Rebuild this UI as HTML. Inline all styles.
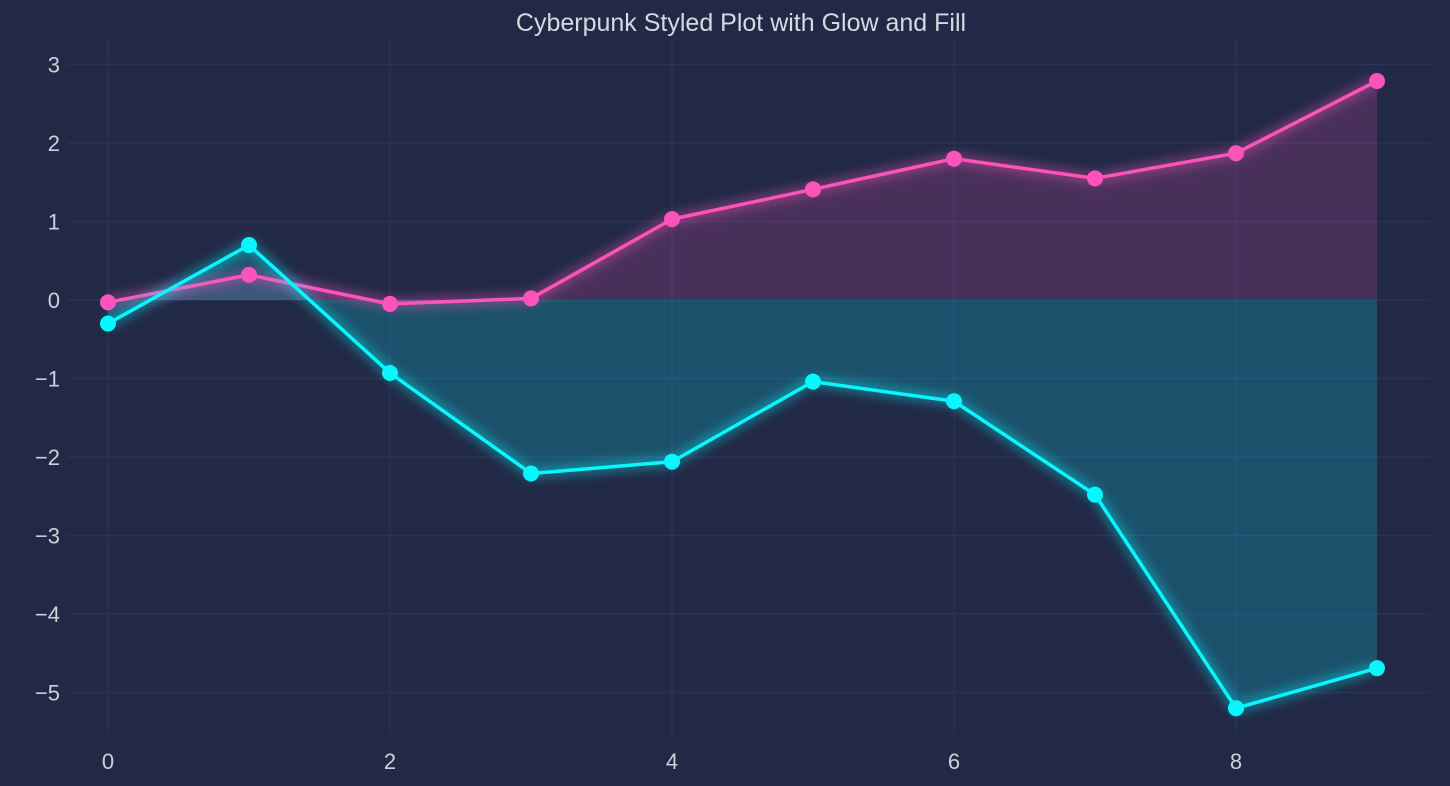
<!DOCTYPE html>
<html><head><meta charset="utf-8"><style>
html,body{margin:0;padding:0;background:#212946;}
svg{display:block;font-family:"Liberation Sans",sans-serif;}
</style></head><body>
<svg id="chart" width="1450" height="786" viewBox="0 0 1450 786">
<defs>
<filter id="glow" x="-20%" y="-20%" width="140%" height="140%"><feGaussianBlur stdDeviation="5"/></filter>
</defs>
<rect width="1450" height="786" fill="#212946"/>
<text x="741" y="31" text-anchor="middle" font-size="25" fill="#d8d8e0">Cyberpunk Styled Plot with Glow and Fill</text>
<g id="grid"></g><g id="fills"></g><g id="lines"></g><g id="ticks"></g>
</svg>
<script>
const xValues = [0,1,2,3,4,5,6,7,8,9];
const pinkValues = [-0.03,0.32,-0.05,0.02,1.03,1.41,1.80,1.55,1.87,2.79];
const cyanValues = [-0.30,0.70,-0.93,-2.21,-2.06,-1.04,-1.29,-2.48,-5.20,-4.69];
const xTicks = [0,2,4,6,8];
const yTicks = [3,2,1,0,-1,-2,-3,-4,-5];
const NS = "http://www.w3.org/2000/svg";
const sx = v => 108 + v * 141.0;
const sy = v => 300 - v * 78.5;
function mk(tag, attrs, parent){const e=document.createElementNS(NS,tag);for(const k in attrs)e.setAttribute(k,attrs[k]);parent.appendChild(e);return e;}
const grid=document.getElementById('grid'),fills=document.getElementById('fills'),lines=document.getElementById('lines'),ticks=document.getElementById('ticks');
for(const t of xTicks){
  const l=mk('line',{x1:sx(t),x2:sx(t),y1:40,y2:735,stroke:'#2A3459','stroke-width':1.3},grid);
  
  
  const tx=mk('text',{x:sx(t),y:770,'text-anchor':'middle','font-size':22,fill:'#d0d0d8'},ticks);
  tx.textContent=t;
  tx.setAttribute('y',769);
  
  
}
for(const t of yTicks){
  const l=mk('line',{x1:68,x2:1430,y1:sy(t),y2:sy(t),stroke:'#2A3459','stroke-width':1.3},grid);
  
  
  const tx=mk('text',{x:60,y:sy(t)+8,'text-anchor':'end','font-size':22,fill:'#d0d0d8'},ticks);
  tx.textContent=String(t).replace('-','\u2212');
  
  
}
function series(vals,color,fillOp,name){
  const pts=xValues.map((x,i)=>sx(x)+','+sy(vals[i])).join(' ');
  const poly=sx(xValues[0])+','+sy(0)+' '+pts+' '+sx(xValues[xValues.length-1])+','+sy(0);
  const f=mk('polygon',{points:poly,fill:color,'fill-opacity':fillOp},fills);
  
  
  const g=mk('polyline',{points:pts,fill:'none',stroke:color,'stroke-width':12,'stroke-opacity':0.35,filter:'url(#glow)'},lines);
  
  
  const l=mk('polyline',{points:pts,fill:'none',stroke:color,'stroke-width':3.5,'stroke-linejoin':'round'},lines);
  
  
  xValues.forEach((x,i)=>{
    const c=mk('circle',{cx:sx(x),cy:sy(vals[i]),r:8,fill:color},lines);
    
    
  });
}
series(pinkValues,'#FE53BB',0.18,'pink-series');
series(cyanValues,'#08F7FE',0.2,'cyan-series');
</script>
</body></html>
